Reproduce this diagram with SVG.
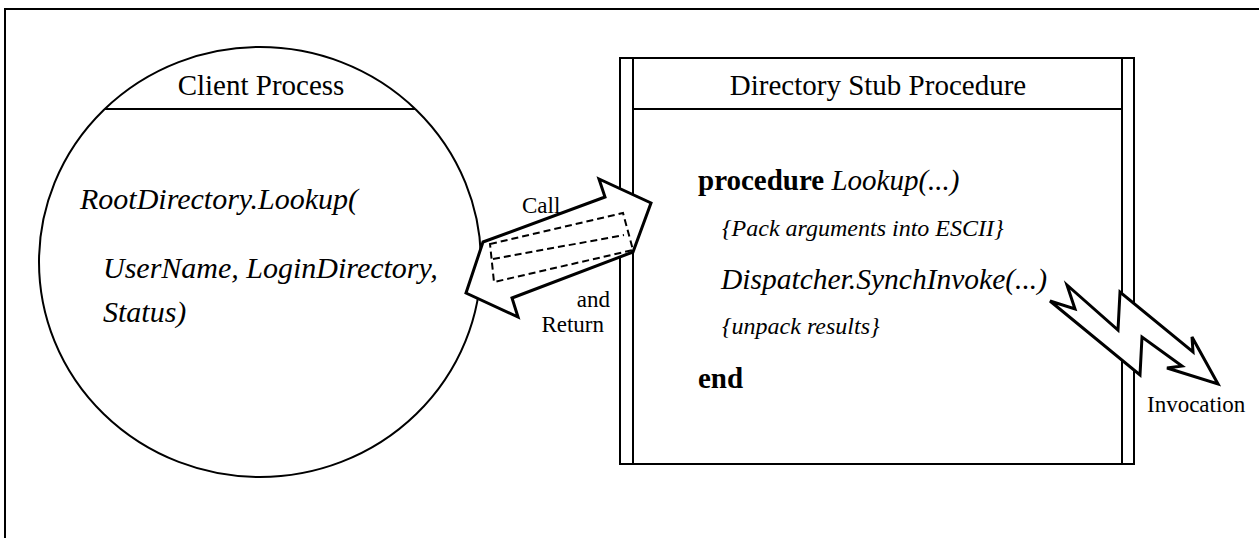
<svg xmlns="http://www.w3.org/2000/svg" width="1259" height="538" viewBox="0 0 1259 538">
<style>
.ln{fill:none;stroke:#000;stroke-width:2}
.sh{fill:#fff;stroke:#000;stroke-width:3;stroke-linejoin:miter}
.t{font-family:"Liberation Serif","Times New Roman",serif;fill:#000}
.it{font-style:italic}
.b{font-weight:bold}
</style>
<rect width="1259" height="538" fill="#fff"/>
<g id="frame">
<polyline class="ln" points="5,538 5,9 1259,9" stroke-width="2.5"/>
</g>
<g id="client-process">
<ellipse class="ln" cx="260" cy="262" rx="221" ry="215" stroke-width="2.5"/>
<line class="ln" x1="105" y1="109" x2="415" y2="109"/>
<text class="t" x="261" y="95" font-size="29" text-anchor="middle">Client Process</text>
<text class="t it" x="80" y="209" font-size="30">RootDirectory.Lookup(</text>
<text class="t it" x="103" y="278" font-size="30">UserName, LoginDirectory,</text>
<text class="t it" x="103" y="322" font-size="30">Status)</text>
</g>
<g id="stub-procedure">
<rect class="ln" x="620" y="58" width="514" height="406"/>
<line class="ln" x1="633" y1="58" x2="633" y2="464"/>
<line class="ln" x1="1122" y1="58" x2="1122" y2="464"/>
<line class="ln" x1="633" y1="109" x2="1122" y2="109"/>
<text class="t" x="878" y="95" font-size="29" text-anchor="middle">Directory Stub Procedure</text>
<text class="t" x="698" y="190" font-size="29"><tspan class="b">procedure</tspan> <tspan class="it">Lookup(...)</tspan></text>
<text class="t it" x="722" y="236" font-size="24">{Pack arguments into ESCII}</text>
<text class="t it" x="721" y="289" font-size="29.5">Dispatcher.SynchInvoke(...)</text>
<text class="t it" x="722" y="334" font-size="24">{unpack results}</text>
<text class="t b" x="698" y="388" font-size="29">end</text>
</g>
<g id="connectors">
<g id="call-return">
<polygon class="sh" points="483,242 605,197 599,179 651,203 633,252 512,298 518,317 466,293"/>
<polygon class="ln" points="490,244 623,213 633,250 494,282" stroke-dasharray="7,4"/>
<line class="ln" x1="493" y1="259" x2="624" y2="235" stroke-dasharray="7,4"/>
<text class="t" x="522" y="213" font-size="23">Call</text>
<text class="t" x="610" y="307" font-size="23" text-anchor="end">and</text>
<text class="t" x="604" y="332" font-size="23" text-anchor="end">Return</text>
</g>
<g id="invocation">
<polygon class="sh" points="1067,285 1118,330 1120,292 1193,352 1192,337 1218,384 1167,368 1182,366 1142,337 1140,375 1050,301 1075,309" stroke-width="2.5"/>
<text class="t" x="1147" y="412" font-size="23">Invocation</text>
</g>
</g>
</svg>
